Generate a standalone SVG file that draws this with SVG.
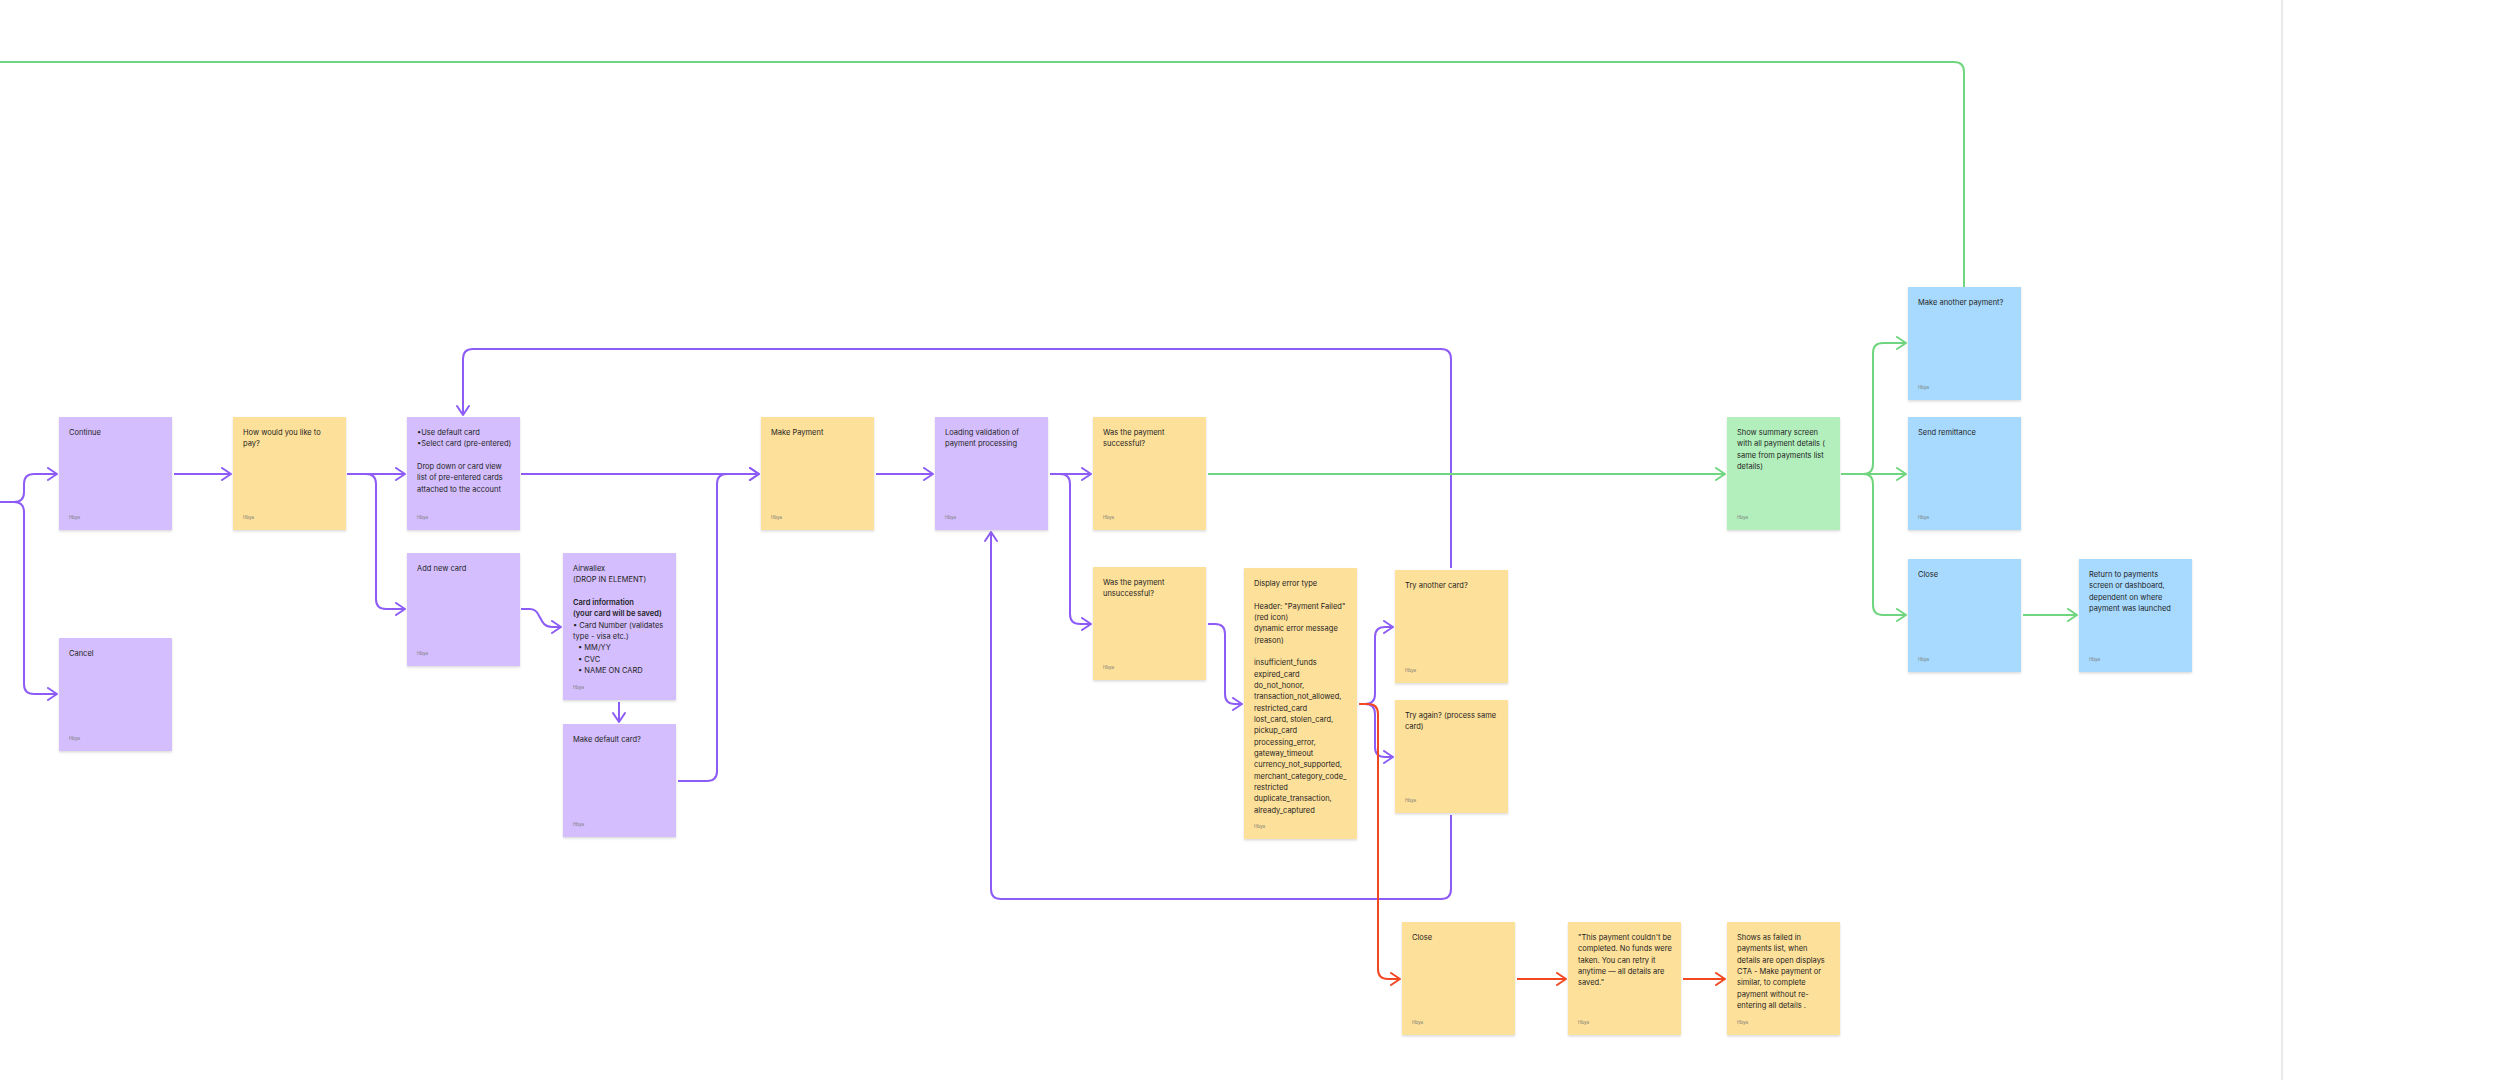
<svg xmlns="http://www.w3.org/2000/svg" width="2520" height="1080" viewBox="0 0 2520 1080">
<style>
.s{filter:url(#sh)}
.p{fill:#d4befd}.y{fill:#fde09a}.g{fill:#b3efbd}.b{fill:#a8daff}
.t{font-family:Inter,"Liberation Sans",sans-serif;font-size:7.5px;fill:#1e1e1e}
.tb{font-weight:600}
.f{font-family:Inter,"Liberation Sans",sans-serif;font-size:4.5px;fill:#777}
.cp{fill:none;stroke:#8d5cf6;stroke-width:2;marker-end:url(#ap)}
.cpn{fill:none;stroke:#8d5cf6;stroke-width:2}
.cg{fill:none;stroke:#6fd67f;stroke-width:2;marker-end:url(#ag)}
.cgn{fill:none;stroke:#6fd67f;stroke-width:2}
.cr{fill:none;stroke:#f24822;stroke-width:2;marker-end:url(#ar)}
</style>
<defs>
<filter id="sh" x="-10%" y="-10%" width="120%" height="125%"><feDropShadow dx="0" dy="1.5" stdDeviation="1.2" flood-color="#000" flood-opacity="0.14"/></filter>
<marker id="ap" viewBox="0 0 12 14" refX="11" refY="7" markerWidth="12" markerHeight="14" orient="auto" markerUnits="userSpaceOnUse"><path d="M2,1 L11,7 L2,13" fill="none" stroke="#8d5cf6" stroke-width="2" stroke-linecap="round" stroke-linejoin="round"/></marker>
<marker id="ag" viewBox="0 0 12 14" refX="11" refY="7" markerWidth="12" markerHeight="14" orient="auto" markerUnits="userSpaceOnUse"><path d="M2,1 L11,7 L2,13" fill="none" stroke="#6fd67f" stroke-width="2" stroke-linecap="round" stroke-linejoin="round"/></marker>
<marker id="ar" viewBox="0 0 12 14" refX="11" refY="7" markerWidth="12" markerHeight="14" orient="auto" markerUnits="userSpaceOnUse"><path d="M2,1 L11,7 L2,13" fill="none" stroke="#f24822" stroke-width="2" stroke-linecap="round" stroke-linejoin="round"/></marker>
</defs>
<rect width="2520" height="1080" fill="#ffffff"/>
<line x1="2282" y1="0" x2="2282" y2="1080" stroke="#e2e2e2" stroke-width="1.5"/>

<g id="connectors">
<path class="cp" d="M0,502 H14 Q24,502 24,492 V484 Q24,474 34,474 H57"/>
<path class="cp" d="M14,502 Q24,502 24,512 V684 Q24,694 34,694 H57"/>
<path class="cp" d="M174,474 H231"/>
<path class="cp" d="M347,474 H405"/>
<path class="cp" d="M366,474 Q376,474 376,484 V599 Q376,609 386,609 H405"/>
<path class="cp" d="M521,609 H530 C542,609 538,627 552,627 H561"/>
<path class="cp" d="M619,702 V722"/>
<path class="cp" d="M678,781 H707 Q717,781 717,771 V484 Q717,474 727,474 H759"/>
<path class="cp" d="M521,474 H759"/>
<path class="cp" d="M876,474 H933"/>
<path class="cp" d="M1050,474 H1091"/>
<path class="cp" d="M1060,474 Q1070,474 1070,484 V614 Q1070,624 1080,624 H1091"/>
<path class="cp" d="M1208,624 H1215 Q1225,624 1225,634 V694 Q1225,704 1235,704 H1242"/>
<path class="cp" d="M1359,704 H1365 Q1375,704 1375,694 V637 Q1375,627 1385,627 H1393"/>
<path class="cp" d="M1365,704 Q1375,704 1375,714 V747 Q1375,757 1385,757 H1393"/>
<path class="cp" d="M1451,568 V359 Q1451,349 1441,349 H473 Q463,349 463,359 V415"/>
<path class="cp" d="M1451,815 V889 Q1451,899 1441,899 H1001 Q991,899 991,889 V532"/>
<path class="cr" d="M1359,704 H1368 Q1378,704 1378,714 V969 Q1378,979 1388,979 H1400"/>
<path class="cr" d="M1517,979 H1566"/>
<path class="cr" d="M1683,979 H1725"/>
<path class="cg" d="M1208,474 H1725"/>
<path class="cg" d="M1841,474 H1906"/>
<path class="cg" d="M1863,474 Q1873,474 1873,464 V353 Q1873,343 1883,343 H1906"/>
<path class="cg" d="M1863,474 Q1873,474 1873,484 V605 Q1873,615 1883,615 H1906"/>
<path class="cg" d="M2023,615 H2077"/>
<path class="cgn" d="M1964,287 V72 Q1964,62 1954,62 H0"/>
</g>

<g id="n-continue" transform="translate(59,417)"><rect class="s p" width="113" height="113"/><text class="t" x="10" y="18">Continue</text><text class="f" x="10" y="102">Hbya</text></g>
<g id="n-cancel" transform="translate(59,638)"><rect class="s p" width="113" height="113"/><text class="t" x="10" y="18">Cancel</text><text class="f" x="10" y="102">Hbya</text></g>
<g id="n-howpay" transform="translate(233,417)"><rect class="s y" width="113" height="113"/><text class="t" x="10" y="18">How would you like to<tspan x="10" dy="11.33">pay?</tspan></text><text class="f" x="10" y="102">Hbya</text></g>
<g id="n-usedefault" transform="translate(407,417)"><rect class="s p" width="113" height="113"/><text class="t" x="10" y="18">•Use default card<tspan x="10" dy="11.33">•Select card (pre-entered)</tspan><tspan x="10" dy="22.66">Drop down or card view</tspan><tspan x="10" dy="11.33">list of pre-entered cards</tspan><tspan x="10" dy="11.33">attached to the account</tspan></text><text class="f" x="10" y="102">Hbya</text></g>
<g id="n-addnew" transform="translate(407,553)"><rect class="s p" width="113" height="113"/><text class="t" x="10" y="18">Add new card</text><text class="f" x="10" y="102">Hbya</text></g>
<g id="n-airwallex" transform="translate(563,553)"><rect class="s p" width="113" height="147"/><text class="t" x="10" y="18">Airwallex<tspan x="10" dy="11.33">(DROP IN ELEMENT)</tspan><tspan x="10" dy="22.66" class="tb">Card information</tspan><tspan x="10" dy="11.33" class="tb">(your card will be saved)</tspan><tspan x="10" dy="11.33">• Card Number (validates</tspan><tspan x="10" dy="11.33">type - visa etc.)</tspan><tspan x="15" dy="11.33">•  MM/YY</tspan><tspan x="15" dy="11.33">•  CVC</tspan><tspan x="15" dy="11.33">•  NAME ON CARD</tspan></text><text class="f" x="10" y="136">Hbya</text></g>
<g id="n-makedefault" transform="translate(563,724)"><rect class="s p" width="113" height="113"/><text class="t" x="10" y="18">Make default card?</text><text class="f" x="10" y="102">Hbya</text></g>
<g id="n-makepayment" transform="translate(761,417)"><rect class="s y" width="113" height="113"/><text class="t" x="10" y="18">Make Payment</text><text class="f" x="10" y="102">Hbya</text></g>
<g id="n-loading" transform="translate(935,417)"><rect class="s p" width="113" height="113"/><text class="t" x="10" y="18">Loading validation of<tspan x="10" dy="11.33">payment processing</tspan></text><text class="f" x="10" y="102">Hbya</text></g>
<g id="n-success" transform="translate(1093,417)"><rect class="s y" width="113" height="113"/><text class="t" x="10" y="18">Was the payment<tspan x="10" dy="11.33">successful?</tspan></text><text class="f" x="10" y="102">Hbya</text></g>
<g id="n-unsuccess" transform="translate(1093,567)"><rect class="s y" width="113" height="113"/><text class="t" x="10" y="18">Was the payment<tspan x="10" dy="11.33">unsuccessful?</tspan></text><text class="f" x="10" y="102">Hbya</text></g>
<g id="n-displayerror" transform="translate(1244,568)"><rect class="s y" width="113" height="271"/><text class="t" x="10" y="18">Display error type<tspan x="10" dy="22.66">Header: "Payment Failed"</tspan><tspan x="10" dy="11.33">(red icon)</tspan><tspan x="10" dy="11.33">dynamic error message</tspan><tspan x="10" dy="11.33">(reason)</tspan><tspan x="10" dy="22.66">insufficient_funds</tspan><tspan x="10" dy="11.33">expired_card</tspan><tspan x="10" dy="11.33">do_not_honor,</tspan><tspan x="10" dy="11.33">transaction_not_allowed,</tspan><tspan x="10" dy="11.33">restricted_card</tspan><tspan x="10" dy="11.33">lost_card, stolen_card,</tspan><tspan x="10" dy="11.33">pickup_card</tspan><tspan x="10" dy="11.33">processing_error,</tspan><tspan x="10" dy="11.33">gateway_timeout</tspan><tspan x="10" dy="11.33">currency_not_supported,</tspan><tspan x="10" dy="11.33">merchant_category_code_</tspan><tspan x="10" dy="11.33">restricted</tspan><tspan x="10" dy="11.33">duplicate_transaction,</tspan><tspan x="10" dy="11.33">already_captured</tspan></text><text class="f" x="10" y="260">Hbya</text></g>
<g id="n-tryanother" transform="translate(1395,570)"><rect class="s y" width="113" height="113"/><text class="t" x="10" y="18">Try another card?</text><text class="f" x="10" y="102">Hbya</text></g>
<g id="n-tryagain" transform="translate(1395,700)"><rect class="s y" width="113" height="113"/><text class="t" x="10" y="18">Try again? (process same<tspan x="10" dy="11.33">card)</tspan></text><text class="f" x="10" y="102">Hbya</text></g>
<g id="n-closefail" transform="translate(1402,922)"><rect class="s y" width="113" height="113"/><text class="t" x="10" y="18">Close</text><text class="f" x="10" y="102">Hbya</text></g>
<g id="n-couldnt" transform="translate(1568,922)"><rect class="s y" width="113" height="113"/><text class="t" x="10" y="18">"This payment couldn't be<tspan x="10" dy="11.33">completed. No funds were</tspan><tspan x="10" dy="11.33">taken. You can retry it</tspan><tspan x="10" dy="11.33">anytime — all details are</tspan><tspan x="10" dy="11.33">saved."</tspan></text><text class="f" x="10" y="102">Hbya</text></g>
<g id="n-failedlist" transform="translate(1727,922)"><rect class="s y" width="113" height="113"/><text class="t" x="10" y="18">Shows as failed in<tspan x="10" dy="11.33">payments list, when</tspan><tspan x="10" dy="11.33">details are open displays</tspan><tspan x="10" dy="11.33">CTA - Make payment or</tspan><tspan x="10" dy="11.33">similar, to complete</tspan><tspan x="10" dy="11.33">payment without re-</tspan><tspan x="10" dy="11.33">entering all details .</tspan></text><text class="f" x="10" y="102">Hbya</text></g>
<g id="n-summary" transform="translate(1727,417)"><rect class="s g" width="113" height="113"/><text class="t" x="10" y="18">Show summary screen<tspan x="10" dy="11.33">with all payment details (</tspan><tspan x="10" dy="11.33">same from payments list</tspan><tspan x="10" dy="11.33">details)</tspan></text><text class="f" x="10" y="102">Hbya</text></g>
<g id="n-another" transform="translate(1908,287)"><rect class="s b" width="113" height="113"/><text class="t" x="10" y="18">Make another payment?</text><text class="f" x="10" y="102">Hbya</text></g>
<g id="n-remittance" transform="translate(1908,417)"><rect class="s b" width="113" height="113"/><text class="t" x="10" y="18">Send remittance</text><text class="f" x="10" y="102">Hbya</text></g>
<g id="n-closeok" transform="translate(1908,559)"><rect class="s b" width="113" height="113"/><text class="t" x="10" y="18">Close</text><text class="f" x="10" y="102">Hbya</text></g>
<g id="n-return" transform="translate(2079,559)"><rect class="s b" width="113" height="113"/><text class="t" x="10" y="18">Return to payments<tspan x="10" dy="11.33">screen or dashboard,</tspan><tspan x="10" dy="11.33">dependent on where</tspan><tspan x="10" dy="11.33">payment was launched</tspan></text><text class="f" x="10" y="102">Hbya</text></g>
</svg>
